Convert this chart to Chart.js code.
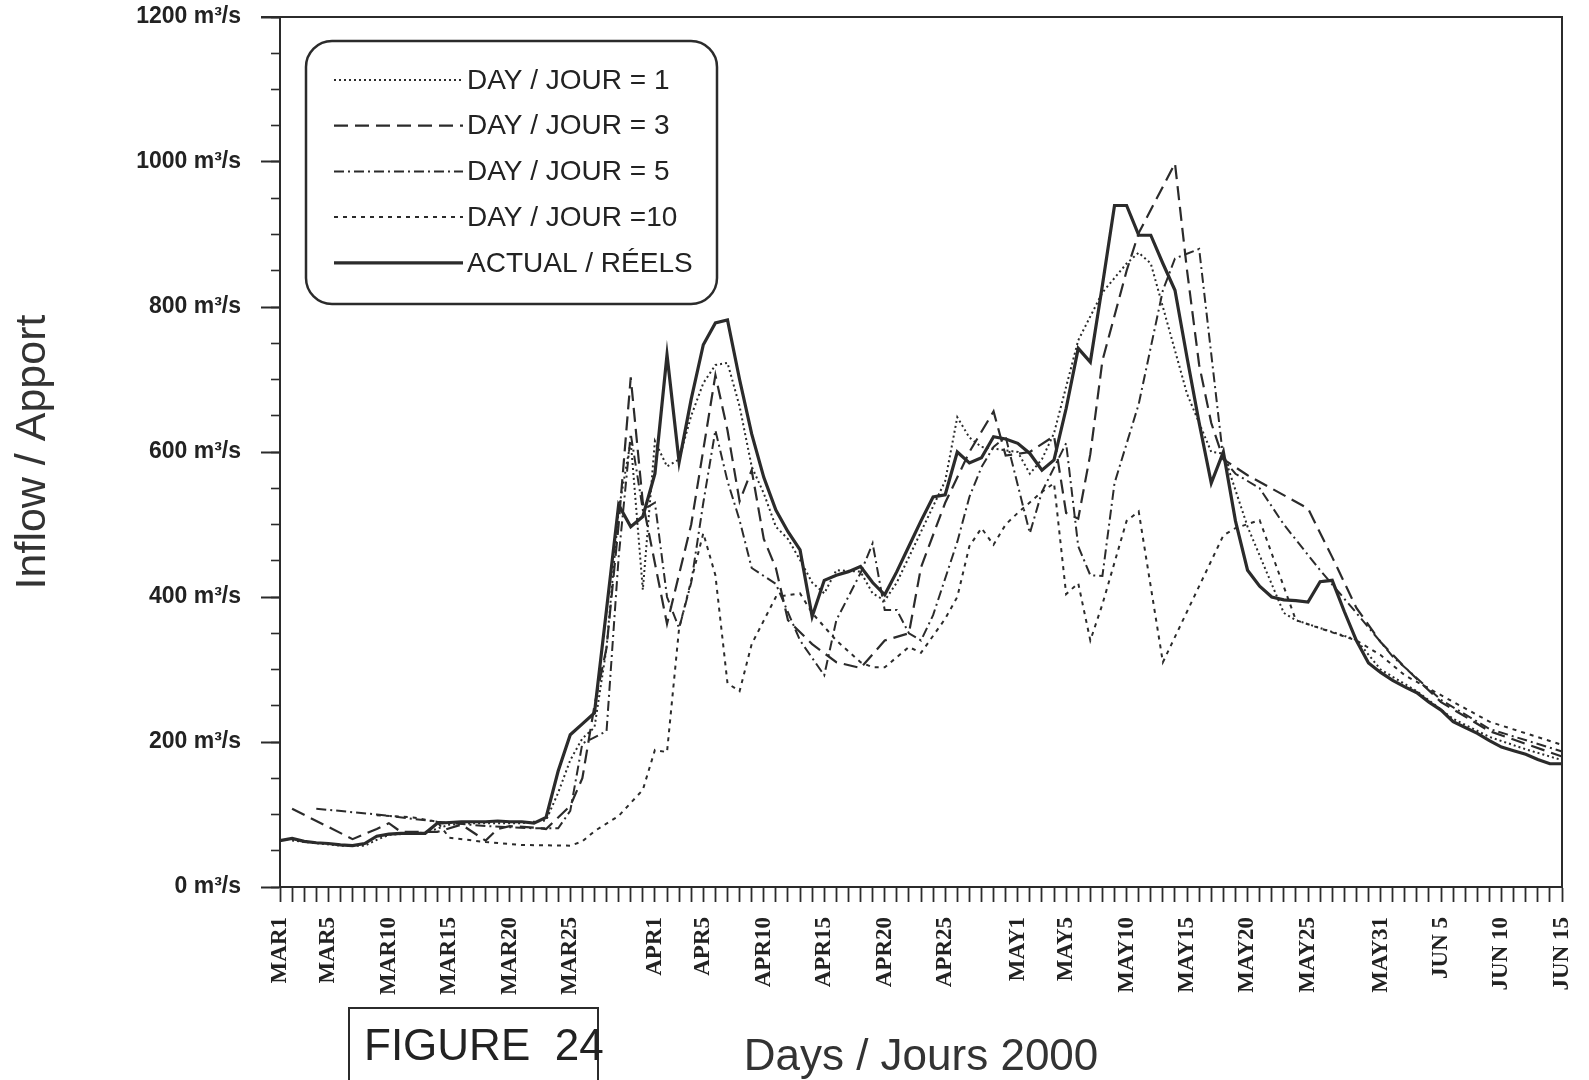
<!DOCTYPE html>
<html>
<head>
<meta charset="utf-8">
<script src="https://cdn.jsdelivr.net/npm/chart.js@4.4.1/dist/chart.umd.min.js"></script>
<style>
  html, body { margin: 0; padding: 0; background: #fff; }
  canvas { display: block; }
</style>
</head>
<body>
<canvas id="inflowChart" width="1589" height="1080"></canvas>
<script>
// days MAR1 .. JUN 15, index 0 = MAR1
var months = [["MAR", 31, ""], ["APR", 30, ""], ["MAY", 31, ""], ["JUN", 15, " "]];
var days = [];
months.forEach(function (m) {
  for (var d = 1; d <= m[1]; d++) days.push(m[0] + m[2] + d);
});
var shownDays = ["MAR1", "MAR5", "MAR10", "MAR15", "MAR20", "MAR25", "APR1", "APR5", "APR10",
  "APR15", "APR20", "APR25", "MAY1", "MAY5", "MAY10", "MAY15", "MAY20", "MAY25", "MAY31",
  "JUN 5", "JUN 10", "JUN 15"];

// actual inflow, one value per day (m3/s)
var actual = [64, 67, 63, 61, 60, 58, 57, 60, 70, 73,
  74, 74, 74, 88, 89, 90, 90, 90, 91, 90,
  90, 88, 96, 160, 210, 225, 240, 383, 527, 497,
  511, 570, 734, 586, 673, 748, 778, 782, 700, 625,
  565, 520, 490, 465, 373, 423, 430, 435, 442, 420,
  403, 435, 470, 505, 538, 541, 600, 585, 592, 621,
  618, 612, 598, 575, 589, 660, 743, 724, 830, 940,
  940, 899, 899, 860, 823, 730, 640, 557, 600, 505,
  437, 415, 400, 396, 395, 393, 421, 423, 380, 340,
  309, 296, 285, 276, 268, 255, 244, 228, 220, 212,
  202, 193, 188, 183, 176, 170, 170];

// forecasts: [day index, value] at the corners
var day1 = [[1, 64], [5, 57], [7, 57], [8, 65], [9, 72], [12, 75], [14, 86], [16, 88], [20, 88], [22, 92],
  [23, 130], [24, 175], [25, 205], [26, 220], [27, 330], [28, 520], [29, 615], [30, 410], [31, 615], [32, 580],
  [33, 590], [34, 650], [35, 695], [36, 720], [37, 723], [38, 663], [39, 580], [40, 543], [41, 497], [42, 480],
  [43, 451], [44, 420], [45, 405], [46, 437], [48, 435], [49, 405], [50, 395], [51, 420], [53, 490], [55, 560],
  [56, 648], [57, 620], [58, 607], [61, 600], [62, 570], [63, 590], [64, 626], [66, 754], [68, 820], [70, 860],
  [71, 875], [72, 860], [73, 800], [75, 680], [77, 600], [78, 598], [80, 497], [83, 378], [84, 368], [89, 341],
  [91, 300], [94, 270], [97, 232], [100, 207], [103, 190], [106, 175]];

var day3 = [[1, 108], [6, 66], [8, 80], [9, 88], [10, 76], [13, 76], [15, 86], [17, 64], [18, 80], [19, 84],
  [21, 82], [22, 80], [24, 112], [25, 150], [26, 250], [27, 330], [28, 500], [29, 703], [30, 530], [32, 363],
  [34, 500], [36, 706], [37, 630], [38, 532], [39, 575], [40, 480], [41, 440], [42, 368], [44, 335], [46, 310],
  [48, 302], [50, 340], [52, 350], [53, 441], [55, 530], [57, 600], [59, 656], [60, 595], [62, 600], [64, 622],
  [65, 516], [66, 508], [67, 597], [68, 726], [70, 850], [71, 902], [74, 998], [75, 850], [76, 720], [77, 640],
  [78, 590], [80, 568], [85, 522], [87, 455], [89, 385], [91, 338], [93, 303], [96, 255], [100, 215], [106, 180]];

var day5 = [[3, 108], [8, 100], [13, 90], [17, 84], [21, 81], [23, 81], [24, 105], [25, 198], [27, 215], [28, 455],
  [29, 625], [30, 520], [31, 530], [32, 400], [33, 357], [34, 420], [35, 530], [36, 630], [37, 560], [38, 506],
  [39, 440], [41, 418], [43, 340], [45, 292], [46, 368], [48, 433], [49, 474], [50, 382], [51, 382], [52, 350],
  [53, 340], [54, 375], [56, 476], [57, 538], [58, 579], [59, 607], [60, 621], [62, 488], [63, 545], [65, 612],
  [66, 470], [67, 430], [68, 429], [69, 557], [71, 666], [73, 823], [74, 867], [76, 880], [78, 590], [79, 570],
  [81, 550], [83, 500], [86, 437], [89, 378], [92, 318], [96, 258], [100, 218], [106, 187]];

var day10 = [[8, 99], [11, 96], [13, 90], [14, 68], [17, 62], [20, 58], [24, 57], [25, 63], [26, 77], [28, 98],
  [30, 134], [31, 189], [32, 186], [33, 357], [35, 488], [36, 430], [37, 281], [38, 270], [39, 335], [41, 400],
  [43, 405], [44, 378], [46, 340], [48, 310], [49, 303], [50, 303], [52, 331], [53, 323], [55, 370], [56, 400],
  [57, 470], [58, 495], [59, 472], [60, 500], [61, 516], [63, 545], [64, 557], [65, 404], [66, 419], [67, 340],
  [68, 390], [70, 505], [71, 518], [73, 310], [78, 485], [79, 495], [81, 506], [84, 368], [89, 340], [91, 320],
  [93, 292], [100, 228], [106, 196]];

var ink = "#2b2b2b";

function points(list) {
  return list.map(function (p) { return { x: days[p[0]], y: p[1] }; });
}

function lineSet(label, data, dash, width) {
  return {
    label: label,
    data: data,
    borderColor: ink,
    borderWidth: width,
    borderDash: dash,
    pointRadius: 0,
    tension: 0,
    fill: false,
    spanGaps: true,
  };
}

// the axes ask for extra room for their end labels; the plot frame is fixed instead
function noEdgePadding(scale) {
  scale.paddingTop = 0;
  scale.paddingBottom = 0;
  scale.paddingLeft = 0;
  scale.paddingRight = 0;
}

var legendBox = {
  id: "legendBox",
  afterDatasetsDraw: function (chart) {
    var ctx = chart.ctx;
    ctx.save();
    ctx.beginPath();
    ctx.roundRect(306, 41, 411, 263, 26);
    ctx.fillStyle = "#fff";
    ctx.fill();
    ctx.lineWidth = 2.5;
    ctx.strokeStyle = ink;
    ctx.stroke();
    ctx.font = "28px 'Liberation Sans'";
    ctx.textBaseline = "middle";
    chart.data.datasets.forEach(function (ds, row) {
      var y = 80 + row * 45.7;
      ctx.setLineDash(ds.borderDash);
      ctx.lineWidth = ds.borderWidth;
      ctx.beginPath();
      ctx.moveTo(334, y);
      ctx.lineTo(463, y);
      ctx.stroke();
      ctx.setLineDash([]);
      ctx.fillStyle = "#222";
      ctx.fillText(ds.label, 467, y + 1);
    });
    ctx.restore();
  }
};

var frameAndFigure = {
  id: "frameAndFigure",
  afterDraw: function (chart) {
    var ctx = chart.ctx, a = chart.chartArea;
    ctx.save();
    ctx.strokeStyle = ink;
    ctx.lineWidth = 2;
    ctx.beginPath();
    ctx.moveTo(a.left - 19, a.top);
    ctx.lineTo(a.right, a.top);
    ctx.lineTo(a.right, a.bottom);
    ctx.stroke();
    // figure number box
    ctx.strokeRect(349, 1008, 249, 90);
    ctx.fillStyle = "#222";
    ctx.font = "44px 'Liberation Sans'";
    ctx.textBaseline = "alphabetic";
    ctx.fillText("FIGURE  24", 364, 1060);
    ctx.restore();
  }
};

var ctxL = document.getElementById("inflowChart").getContext("2d");
var inflowChart = new Chart(ctxL, {
  type: "line",
  data: {
    labels: days,
    datasets: [
      lineSet("DAY / JOUR = 1", points(day1), [2, 3], 2),
      lineSet("DAY / JOUR = 3", points(day3), [14, 7], 2.2),
      lineSet("DAY / JOUR = 5", points(day5), [10, 4, 2, 4], 2),
      lineSet("DAY / JOUR =10", points(day10), [4, 5], 2),
      lineSet("ACTUAL / RÉELS", actual, [], 3.2),
    ],
  },
  options: {
    responsive: false,
    devicePixelRatio: 1,
    animation: false,
    layout: { padding: { top: 17, right: 27, bottom: 0, left: 0 } },
    plugins: { legend: { display: false }, tooltip: { enabled: false } },
    scales: {
      x: {
        type: "category",
        offset: false,
        afterFit: function (scale) { scale.height = 193; noEdgePadding(scale); },
        border: { display: true, color: ink, width: 2 },
        grid: { drawOnChartArea: false, tickLength: 15, tickWidth: 1.8, tickColor: ink },
        ticks: {
          autoSkip: false,
          minRotation: 90,
          maxRotation: 90,
          padding: 15,
          color: "#222",
          font: { family: "'Liberation Serif'", size: 23, weight: "bold" },
          callback: function (val, i) { return shownDays.indexOf(days[i]) >= 0 ? days[i] : ""; },
        },
        title: {
          display: true,
          text: "Days / Jours 2000",
          color: "#333",
          font: { family: "'Liberation Sans'", size: 44, lineHeight: 1 },
          padding: { top: 0, bottom: 0 },
        },
      },
      y: {
        type: "linear",
        position: "left",
        weight: 1,
        min: 0,
        max: 1200,
        afterFit: function (scale) { scale.width = 280; noEdgePadding(scale); },
        border: { display: true, color: ink, width: 2 },
        grid: { drawOnChartArea: false, tickLength: 19, tickWidth: 2, tickColor: ink },
        ticks: {
          stepSize: 200,
          padding: 20,
          color: "#222",
          font: { family: "'Liberation Sans'", size: 23, weight: "bold", lineHeight: 1 },
          callback: function (v) { return v + " m³/s"; },
        },
        title: {
          display: true,
          text: "Inflow / Apport",
          color: "#333",
          font: { family: "'Liberation Sans'", size: 43, lineHeight: 1 },
          padding: { top: 12, bottom: 0 },
        },
      },
      yMinor: {
        type: "linear",
        position: "left",
        weight: 0,
        min: 0,
        max: 1200,
        afterFit: function (scale) { scale.width = 0; noEdgePadding(scale); },
        border: { display: false },
        grid: { drawOnChartArea: false, tickLength: 9, tickWidth: 1.6, tickColor: ink },
        ticks: { display: false, stepSize: 50 },
      },
    },
  },
  plugins: [legendBox, frameAndFigure],
});
</script>
</body>
</html>
